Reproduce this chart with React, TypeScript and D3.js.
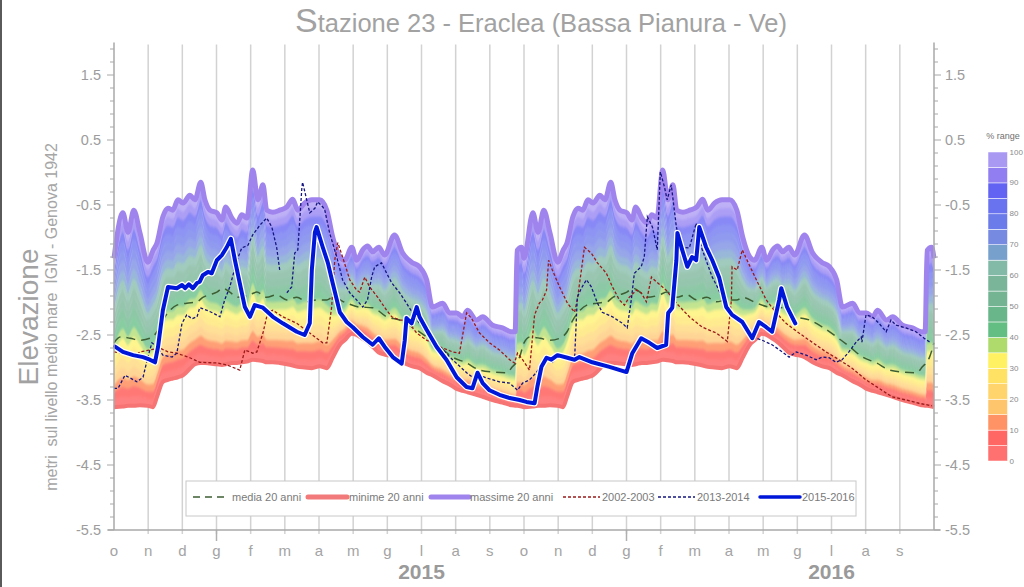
import React from 'react';
import * as d3 from 'd3';

// ---------- data ----------
const MONTHS = ['o','n','d','g','f','m','a','m','g','l','a','s','o','n','d','g','f','m','a','m','g','l','a','s'];
const YEAR_LABELS = ['2015', '2016'];
const YEAR_LABEL_MONTH = [9, 21];
const JAN_MONTHS = [3, 15];
const Y_LABELS = [1.5, 0.5, -0.5, -1.5, -2.5, -3.5, -4.5, -5.5];

// climatology (20 years), month index within hydrological year (0 = 1 Oct)
const BAND_M =  [0.00,0.26,0.41,0.58,0.76,0.99,1.14,1.26,1.43,1.58,1.72,1.87,2.02,2.22,2.37,2.54,2.66,2.81,3.01,3.16,3.27,3.45,3.60,3.74,3.89,4.06,4.21,4.36,4.47,4.65,4.85,5.06,5.23,5.38,5.58,5.79,6.02,6.23,6.40,6.61,6.75,6.96,7.10,7.28,7.42,7.57,7.75,7.92,8.21,8.45,8.71,8.94,9.15,9.32,9.62,9.82,10.03,10.20,10.35,10.61,10.79,11.08,11.37,11.63,11.74,11.80,11.93,12.00];
const BAND_HI = [-1.32,-0.62,-0.92,-0.58,-0.93,-1.38,-1.20,-1.08,-0.68,-0.55,-0.58,-0.42,-0.47,-0.35,-0.42,-0.15,-0.42,-0.58,-0.62,-0.73,-0.53,-0.70,-0.78,-0.65,-0.70,0.04,-0.42,-0.19,-0.58,-0.61,-0.58,-0.53,-0.41,-0.58,-0.47,-0.42,-0.42,-0.58,-0.99,-1.30,-1.35,-1.15,-1.35,-1.19,-1.13,-1.22,-1.15,-1.27,-0.96,-1.24,-1.38,-1.45,-1.65,-2.07,-2.01,-2.16,-2.16,-2.22,-2.12,-2.27,-2.22,-2.35,-2.39,-2.45,-2.45,-1.20,-1.15,-1.32];
const BAND_LO = [-3.61,-3.60,-3.59,-3.59,-3.58,-3.59,-3.61,-3.45,-3.22,-3.19,-3.17,-3.15,-3.12,-3.02,-2.95,-2.93,-2.93,-2.94,-2.95,-2.96,-2.95,-2.93,-2.93,-2.92,-2.91,-2.88,-2.89,-2.90,-2.92,-2.92,-2.93,-2.95,-2.97,-2.99,-3.00,-3.01,-2.98,-3.01,-2.85,-2.65,-2.58,-2.48,-2.50,-2.56,-2.61,-2.68,-2.77,-2.80,-2.84,-2.92,-2.98,-3.01,-3.08,-3.12,-3.21,-3.26,-3.33,-3.36,-3.38,-3.42,-3.45,-3.50,-3.54,-3.58,-3.59,-3.59,-3.60,-3.61];
const MEDIA: [number, number][] = [[0.00,-2.62],[0.18,-2.53],[0.47,-2.55],[0.76,-2.58],[1.05,-2.55],[1.26,-2.45],[1.43,-2.27],[1.64,-2.12],[1.84,-2.04],[2.13,-2.01],[2.43,-1.99],[2.60,-1.92],[2.81,-1.88],[3.01,-1.84],[3.19,-1.78],[3.39,-1.84],[3.60,-1.92],[3.98,-1.88],[4.18,-1.84],[4.47,-1.92],[4.76,-1.88],[5.06,-1.96],[5.35,-1.92],[5.64,-1.99],[5.93,-1.96],[6.23,-1.96],[6.40,-1.92],[6.81,-2.01],[7.19,-2.07],[7.57,-2.08],[7.98,-2.22],[8.36,-2.27],[8.74,-2.38],[9.15,-2.53],[9.53,-2.68],[9.91,-2.84],[10.32,-2.93],[10.70,-3.04],[11.08,-3.07],[11.49,-3.08],[11.66,-2.99],[11.87,-2.84],[12.00,-2.62]];

// individual years, month index over the two displayed years
const S2002: [number, number][] = [[0.0,-2.76],[0.26,-2.78],[0.56,-2.84],[0.76,-2.76],[1.05,-2.73],[1.34,-2.70],[1.58,-2.76],[1.84,-2.78],[2.22,-2.85],[2.51,-2.92],[3.01,-2.93],[3.30,-2.96],[3.68,-3.04],[3.83,-2.73],[4.06,-2.78],[4.18,-2.76],[4.36,-2.47],[4.50,-2.15],[4.65,-2.12],[4.94,-2.22],[5.35,-2.32],[5.73,-2.47],[6.11,-2.62],[6.23,-2.62],[6.37,-2.07],[6.46,-1.35],[6.55,-1.08],[6.69,-1.30],[6.90,-1.65],[7.10,-1.81],[7.19,-1.84],[7.34,-1.61],[7.48,-1.76],[7.72,-1.92],[7.98,-2.12],[8.13,-2.22],[8.36,-2.27],[8.56,-2.27],[8.86,-2.47],[9.15,-2.58],[9.53,-2.68],[9.91,-2.76],[10.11,-2.78],[10.32,-2.16],[10.46,-2.24],[10.70,-2.47],[10.99,-2.62],[11.28,-2.73],[11.58,-2.88],[11.72,-2.93],[11.81,-2.78],[11.96,-2.88],[12.16,-3.04],[12.31,-2.19],[12.45,-2.01],[12.54,-1.96],[12.66,-1.81],[12.72,-1.35],[12.83,-1.50],[13.04,-1.76],[13.27,-2.01],[13.48,-2.15],[13.56,-1.96],[13.68,-1.50],[13.77,-1.15],[13.97,-1.24],[14.15,-1.39],[14.41,-1.55],[14.59,-1.76],[14.79,-1.96],[14.94,-2.04],[15.08,-1.92],[15.29,-1.81],[15.43,-1.85],[15.58,-1.99],[15.73,-1.61],[15.87,-1.68],[16.16,-1.81],[16.46,-2.01],[16.84,-2.22],[17.22,-2.38],[17.63,-2.47],[17.95,-2.60],[18.07,-1.96],[18.09,-1.45],[18.24,-1.50],[18.39,-1.19],[18.53,-1.35],[18.80,-1.65],[19.09,-1.96],[19.38,-2.16],[19.67,-2.32],[20.05,-2.47],[20.43,-2.61],[20.84,-2.76],[21.22,-2.88],[21.60,-3.01],[22.01,-3.19],[22.39,-3.32],[22.77,-3.45],[23.18,-3.50],[23.56,-3.55],[23.94,-3.59]];
const S2013: [number, number | null][] = [[0.0,-3.32],[0.12,-3.32],[0.32,-3.12],[0.47,-3.16],[0.67,-3.22],[0.85,-3.15],[0.99,-2.84],[1.11,-2.62],[1.26,-2.68],[1.43,-2.81],[1.70,-2.84],[1.84,-2.78],[1.99,-2.32],[2.13,-2.19],[2.28,-2.25],[2.43,-2.22],[2.51,-2.08],[2.72,-2.12],[2.89,-2.16],[3.10,-2.22],[3.24,-1.96],[3.39,-1.76],[3.60,-1.35],[3.74,-1.16],[3.92,-1.12],[4.06,-0.96],[4.27,-0.81],[4.47,-0.70],[4.62,-0.84],[4.76,-1.15],[4.85,-1.50],[4.95,null],[5.06,-1.85],[5.20,-1.76],[5.29,-1.24],[5.38,-1.19],[5.50,-0.22],[5.52,-0.15],[5.64,-0.42],[5.73,-0.62],[5.88,-0.55],[5.96,-0.45],[6.11,-0.53],[6.17,-0.58],[6.31,-0.93],[6.52,-1.30],[6.69,-1.65],[6.90,-1.85],[7.10,-1.96],[7.28,-2.07],[7.42,-1.96],[7.54,-1.61],[7.63,-1.45],[7.83,-1.39],[7.98,-1.55],[8.13,-1.70],[8.36,-1.85],[8.56,-2.01],[8.74,-2.16],[8.94,-2.32],[9.24,-2.47],[9.53,-2.68],[9.91,-2.88],[10.32,-3.08],[10.49,-3.15],[10.70,-3.12],[10.90,-3.16],[11.28,-3.22],[11.58,-3.24],[11.81,-3.35],[11.96,-3.24],[12.16,-3.19],[12.36,-3.08],[12.54,-2.93],[12.69,-2.84],[12.83,-2.92],[13.04,-2.81],[13.27,-2.85],[13.48,-2.88],[13.56,-1.92],[13.68,-1.78],[13.83,-1.65],[13.97,-1.76],[14.15,-2.01],[14.29,-2.15],[14.59,-2.22],[14.88,-2.32],[15.02,-2.39],[15.14,-1.96],[15.23,-1.55],[15.43,-1.45],[15.52,-1.30],[15.61,-0.68],[15.76,-0.84],[15.90,-1.19],[15.99,0.01],[16.11,-0.22],[16.19,-0.42],[16.31,-0.19],[16.46,-0.84],[16.60,-1.15],[16.84,-1.16],[17.04,-0.78],[17.19,-1.15],[17.33,-1.35],[17.51,-1.61],[17.66,-1.76],[17.92,-2.07],[18.09,-2.22],[18.30,-2.27],[18.50,-2.39],[18.68,-2.53],[18.97,-2.58],[19.26,-2.65],[19.56,-2.76],[19.76,-2.84],[19.97,-2.76],[20.26,-2.81],[20.55,-2.88],[20.73,-2.84],[20.93,-2.85],[21.13,-2.92],[21.31,-2.88],[21.51,-2.76],[21.72,-2.61],[21.87,-2.53],[21.89,-2.61],[22.01,-2.19],[22.19,-2.22],[22.39,-2.32],[22.60,-2.45],[22.74,-2.27],[22.89,-2.35],[23.18,-2.39],[23.47,-2.45],[23.71,-2.55],[23.91,-2.62]];
const S2015: [number, number][] = [[0.03,-2.68],[0.26,-2.76],[0.56,-2.81],[0.85,-2.84],[1.05,-2.88],[1.20,-2.92],[1.29,-2.68],[1.43,-2.12],[1.58,-1.76],[1.84,-1.78],[1.99,-1.73],[2.08,-1.78],[2.19,-1.72],[2.31,-1.78],[2.43,-1.70],[2.51,-1.68],[2.60,-1.58],[2.75,-1.53],[2.86,-1.55],[3.01,-1.35],[3.16,-1.27],[3.30,-1.15],[3.42,-1.02],[3.54,-1.35],[3.68,-1.70],[3.83,-2.07],[3.98,-2.22],[4.12,-2.04],[4.36,-2.08],[4.65,-2.22],[4.94,-2.32],[5.35,-2.45],[5.58,-2.50],[5.73,-2.32],[5.79,-1.50],[5.88,-0.92],[5.93,-0.84],[6.11,-1.15],[6.26,-1.39],[6.40,-1.70],[6.61,-2.15],[6.81,-2.30],[6.99,-2.38],[7.28,-2.53],[7.57,-2.65],[7.75,-2.55],[7.92,-2.68],[8.16,-2.84],[8.42,-2.94],[8.51,-2.58],[8.56,-2.24],[8.71,-2.32],[8.86,-2.07],[8.94,-2.22],[9.15,-2.42],[9.44,-2.68],[9.73,-2.88],[10.03,-3.15],[10.32,-3.30],[10.49,-3.32],[10.64,-3.08],[10.79,-3.24],[10.99,-3.35],[11.28,-3.42],[11.58,-3.47],[11.87,-3.50],[12.07,-3.53],[12.31,-3.55],[12.39,-3.30],[12.51,-2.99],[12.66,-2.85],[12.80,-2.88],[12.98,-2.81],[13.27,-2.85],[13.48,-2.88],[13.62,-2.84],[14.00,-2.92],[14.50,-2.99],[15.00,-3.07],[15.17,-2.78],[15.43,-2.55],[15.67,-2.62],[15.90,-2.70],[16.16,-2.65],[16.22,-2.16],[16.34,-2.08],[16.46,-1.35],[16.49,-0.93],[16.63,-1.19],[16.78,-1.45],[16.92,-1.30],[17.04,-1.35],[17.13,-0.84],[17.33,-1.15],[17.51,-1.35],[17.71,-1.61],[17.92,-2.07],[18.09,-2.19],[18.39,-2.30],[18.68,-2.55],[18.88,-2.30],[19.09,-2.38],[19.26,-2.45],[19.47,-1.96],[19.53,-1.78],[19.70,-2.07],[19.94,-2.32]];

// colour scale "% range" (bottom 0% -> top 100%), 5% steps
const RANGE_TICKS = [0,10,20,30,40,50,60,70,80,90,100];
const RANGE_COLORS = ['#ff6464','#ff5a58','#ff8a58','#ffc060','#ffd060','#ffe056','#fff054','#a8d860','#55b878','#5cb080','#68ae8a','#6fae90','#78b4a0','#6c98c8','#6a80e0','#6070e8','#5c66ee','#5555f2','#8874f0','#a390f2'];

const LEGEND_LABELS = ['media 20 anni','minime 20 anni','massime 20 anni','2002-2003','2013-2014','2015-2016'];

const FONT = "'Liberation Sans', Arial, sans-serif";

type Row = { m: number; lo: number; hi: number };

export default function App() {
  const W = 1024, H = 587;
  const x = d3.scaleLinear().domain([0, 24]).range([114, 934]);
  const y = d3.scaleLinear().domain([-5.5, 2]).range([530, 42.5]);
  const top = 42.5, bottom = 530;

  const rows: Row[] = [];
  const media: [number, number][] = [];
  for (let yr = 0; yr < 2; yr++) {
    BAND_M.forEach((m, i) => {
      if (yr === 1 && i === 0) return;
      rows.push({ m: m + 12 * yr, lo: BAND_LO[i], hi: BAND_HI[i] });
    });
    MEDIA.forEach((d, i) => {
      if (yr === 1 && i === 0) return;
      media.push([d[0] + 12 * yr, d[1]]);
    });
  }
  const curve = d3.curveMonotoneX;
  const layerPath = (f0: number, f1: number) =>
    d3.area<Row>()
      .x(d => x(d.m))
      .y0(d => y(d.lo + f0 * (d.hi - d.lo)))
      .y1(d => y(d.lo + f1 * (d.hi - d.lo)))
      .curve(curve)(rows) || '';
  const clipPath = layerPath(0, 1);
  const hiLine = d3.line<Row>().x(d => x(d.m)).y(d => y(d.hi)).curve(curve)(rows) || '';
  const loLine = d3.line<Row>().x(d => x(d.m)).y(d => y(d.lo)).curve(curve)(rows) || '';
  const mediaLine = d3.line<[number, number]>().x(d => x(d[0])).y(d => y(d[1])).curve(curve)(media) || '';
  const seriesLine = d3.line<[number, number | null]>()
    .defined(d => d[1] !== null)
    .x(d => x(d[0])).y(d => y(d[1] as number));

  const n = RANGE_COLORS.length;
  const mix = (c: string, k: number) => d3.interpolateRgb('#ffffff', c)(k < 3 ? 0.82 : k < 7 ? 0.66 : 0.7);

  const yTicks = d3.range(0, 38).map(i => -5.5 + i * 0.2);
  const isMajor = (v: number) => Math.abs((v + 5.5) - Math.round(v + 5.5)) < 1e-6;

  const cbX = 988, cbW = 19.5, cbTop = 152, cbBot = 461;
  const cb = d3.scaleLinear().domain([0, 100]).range([cbBot, cbTop]);

  const legendY = 497;
  const legendItems = [
    { x1: 193, x2: 229, tx: 232, stroke: '#3d5f33', w: 1.6, dash: '7,5' },
    { x1: 308, x2: 347, tx: 349, stroke: '#f27a7a', w: 5, dash: '' },
    { x1: 431, x2: 469, tx: 470, stroke: '#a084ee', w: 5, dash: '' },
    { x1: 563, x2: 600, tx: 602, stroke: '#9a1a1a', w: 1.4, dash: '3,2' },
    { x1: 658, x2: 695, tx: 697, stroke: '#161680', w: 1.4, dash: '3,2' },
    { x1: 760, x2: 800, tx: 802, stroke: '#0016d8', w: 3.5, dash: '' },
  ];

  return (
    <svg width={W} height={H} viewBox={`0 0 ${W} ${H}`}
      style={{ position: 'absolute', left: 0, top: 0, background: '#fff', fontFamily: FONT }}>
      <defs>
        <clipPath id="bandClip"><path d={clipPath} /></clipPath>
        <filter id="soft" filterUnits="userSpaceOnUse" x={0} y={0} width={W} height={H}>
          <feGaussianBlur stdDeviation="0.6 1.6" />
        </filter>
      </defs>
      <rect x={0} y={0} width={W} height={H} fill="#fff" />
      <rect x={0} y={0} width={2} height={H} fill="#5a5a5a" />

      {/* title */}
      <text x={541} y={32} textAnchor="middle" fill="#a2a2a2" fontSize={25.5}>
        <tspan fontSize={34}>S</tspan>tazione 23 - Eraclea (Bassa Pianura - Ve)
      </text>

      {/* vertical month grid */}
      {d3.range(1, 24).map(i => (
        <line key={'g' + i} x1={x(i)} x2={x(i)} y1={top + 2} y2={bottom + 4}
          stroke="#d2d2d2" strokeWidth={1.5} />
      ))}
      {JAN_MONTHS.map(i => (
        <line key={'j' + i} x1={x(i)} x2={x(i)} y1={bottom} y2={bottom + 11} stroke="#b0b0b0" strokeWidth={1.5} />
      ))}

      {/* climatological band */}
      <g clipPath="url(#bandClip)">
        <g filter="url(#soft)">
          {RANGE_COLORS.map((c, k) => (
            <path key={'L' + k} d={layerPath(k === 0 ? -0.05 : k / n, k === n - 1 ? 1.05 : (k + 1) / n + 0.004)} fill={mix(c, k)} />
          ))}
        </g>
      </g>
      <path d={loLine} fill="none" stroke="#f67474" strokeWidth={4} strokeLinejoin="round" />
      <path d={hiLine} fill="none" stroke="#a084ee" strokeWidth={5} strokeLinejoin="round" />

      {/* series */}
      <path d={mediaLine} fill="none" stroke="#3d5f33" strokeWidth={1.5} strokeDasharray="9,6" />
      <path d={seriesLine(S2002) || ''} fill="none" stroke="#9a1a1a" strokeWidth={1.3} strokeDasharray="3,2" />
      <path d={seriesLine(S2013) || ''} fill="none" stroke="#161680" strokeWidth={1.3} strokeDasharray="3,2" />
      <path d={seriesLine(S2015) || ''} fill="none" stroke="#ffffff" strokeWidth={6.5} strokeLinejoin="round" strokeLinecap="round" />
      <path d={seriesLine(S2015) || ''} fill="none" stroke="#0016d8" strokeWidth={4} strokeLinejoin="round" strokeLinecap="round" />

      {/* axes */}
      <line x1={x(0)} x2={x(0)} y1={top} y2={bottom} stroke="#a8a8a8" strokeWidth={1.5} />
      <line x1={x(24)} x2={x(24)} y1={top} y2={bottom} stroke="#a8a8a8" strokeWidth={1.5} />
      <line x1={x(0) - 6} x2={x(24) + 6} y1={bottom} y2={bottom} stroke="#a8a8a8" strokeWidth={1.5} />
      {yTicks.map((v, i) => {
        const len = isMajor(v) ? 7 : 4;
        return (
          <g key={'t' + i}>
            <line x1={x(0) - len} x2={x(0)} y1={y(v)} y2={y(v)} stroke="#a8a8a8" strokeWidth={1} />
            <line x1={x(24)} x2={x(24) + len} y1={y(v)} y2={y(v)} stroke="#a8a8a8" strokeWidth={1} />
          </g>
        );
      })}
      {Y_LABELS.map(v => (
        <g key={'yl' + v} fill="#9c9c9c" fontSize={14.5}>
          <text x={101} y={y(v)} textAnchor="end" dominantBaseline="central">{v.toFixed(1)}</text>
          <text x={945} y={y(v)} textAnchor="start" dominantBaseline="central">{v.toFixed(1)}</text>
        </g>
      ))}
      {MONTHS.map((mth, i) => (
        <text key={'m' + i} x={x(i)} y={556} textAnchor="middle" fill="#a4a4a4" fontSize={15}>{mth}</text>
      ))}
      {YEAR_LABELS.map((lab, i) => (
        <text key={'yr' + i} x={x(YEAR_LABEL_MONTH[i])} y={579} textAnchor="middle" fill="#9a9a9a"
          fontSize={21} fontWeight="bold">{lab}</text>
      ))}

      {/* axis titles */}
      <text transform="translate(38,317) rotate(-90)" textAnchor="middle" fill="#a2a2a2" fontSize={28}>Elevazione</text>
      <text transform="translate(57,317) rotate(-90)" textAnchor="middle" fill="#a6a6a6" fontSize={16}
        style={{ whiteSpace: 'pre' }}>{'metri  sul livello medio mare  IGM - Genova 1942'}</text>

      {/* legend */}
      <rect x={186} y={481} width={670} height={35} fill="#fff" stroke="#c8c8c8" strokeWidth={1} />
      {legendItems.map((it, i) => (
        <g key={'lg' + i}>
          <line x1={it.x1} x2={it.x2} y1={legendY} y2={legendY} stroke={it.stroke} strokeWidth={it.w}
            strokeDasharray={it.dash || undefined} strokeLinecap={it.w > 3 ? 'round' : 'butt'} />
          <text x={it.tx} y={legendY} dominantBaseline="central" fill="#7a7a7a" fontSize={11}>{LEGEND_LABELS[i]}</text>
        </g>
      ))}

      {/* colour bar */}
      <text x={1003} y={139} textAnchor="middle" fill="#707070" fontSize={9}>% range</text>
      {RANGE_COLORS.map((c, k) => (
        <rect key={'cb' + k} x={cbX} y={cb((k + 1) * 5)} width={cbW} height={cb(k * 5) - cb((k + 1) * 5)}
          fill={c} fillOpacity={0.92} stroke="#ffffff" strokeWidth={0.5} />
      ))}
      {RANGE_TICKS.map(t => (
        <text key={'ct' + t} x={cbX + cbW + 2} y={cb(t)} dominantBaseline="central" fill="#8a8a8a" fontSize={8}>{t}</text>
      ))}
    </svg>
  );
}
